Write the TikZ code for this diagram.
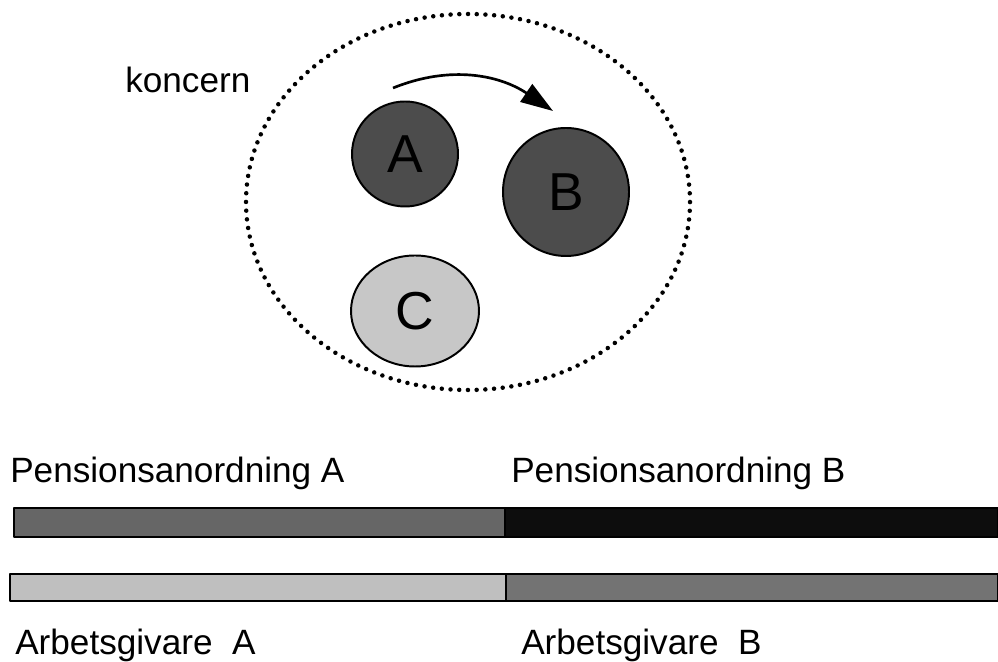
\documentclass[tikz,border=0pt]{standalone}
\usepackage{fontspec}
\setmainfont{Liberation Sans}
\usetikzlibrary{arrows.meta,shapes.geometric}
\begin{document}
\begin{tikzpicture}[x=0.025cm,y=0.025cm, line join=round,
    lbl/.style={anchor=base west,inner sep=0pt,font=\fontsize{25}{30}\selectfont},
    firm/.style={ellipse,draw,line width=1.4pt,inner sep=0pt,font=\fontsize{38}{44}\selectfont},
    bar/.style={draw,line width=1pt}]
    \def\u{0.025cm}
    \useasboundingbox (0,0) rectangle (998,662);
    % koncern
    \draw[line width=3.2pt,line cap=round,dash pattern=on 0pt off 6.2pt]
        (468,460) ellipse [x radius=222,y radius=188];
    \node[lbl] (koncern) at (125,569) {koncern};
    \node[firm,fill=black!70,minimum width=106*\u,minimum height=105*\u] (A) at (405,508) {A};
    \node[firm,fill=black!70,minimum width=126*\u,minimum height=128*\u] (B) at (566,470) {B};
    \node[firm,fill=black!22,minimum width=128*\u,minimum height=111*\u] (C) at (415,351) {C};
    \coordinate (from) at (393,574);
    \coordinate (to) at (553,551);
    \draw[line width=1.9pt,-{Triangle[length=23pt,width=15pt]}] (from) to[out=22,in=146] (to);
    % pensionsanordning
    \node[lbl] (pA) at (10,179) {Pensionsanordning A};
    \node[lbl] (pB) at (511,179) {Pensionsanordning B};
    \draw[bar,fill=black!60] (14,125) rectangle (505,154);
    \draw[bar,fill=black!95] (505,125) rectangle (998,154);
    % arbetsgivare
    \draw[bar,fill=black!25] (10,61) rectangle (506,88);
    \draw[bar,fill=black!55] (506,61) rectangle (998,88);
    \node[lbl] (aA) at (15,7) {Arbetsgivare\ \ A};
    \node[lbl] (aB) at (521,7) {Arbetsgivare\ \ B};
\end{tikzpicture}
\end{document}
